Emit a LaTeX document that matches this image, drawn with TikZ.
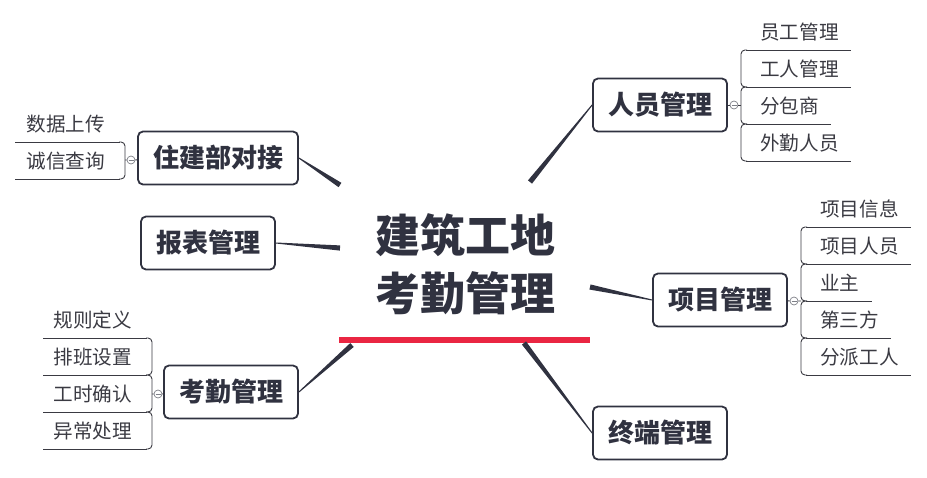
\documentclass[tikz,border=0pt]{standalone}
\usepackage{fontspec}
\setmainfont{Noto Sans CJK SC}
\usetikzlibrary{positioning,calc}
\definecolor{topiccolor}{RGB}{48,50,64}
\definecolor{leafcolor}{RGB}{58,58,66}
\definecolor{barcolor}{RGB}{234,38,66}
\definecolor{foldcolor}{RGB}{125,127,135}

% tapered branch from the centre to a topic
\newcommand{\taper}[2]{\fill[topiccolor] ($(#1)!2.6pt!90:(#2)$) -- ($(#2)!0.5pt!-90:(#1)$) -- ($(#2)!0.5pt!90:(#1)$) -- ($(#1)!2.6pt!-90:(#2)$) -- cycle;}

\begin{document}
\begin{tikzpicture}[x=1pt,y=-1pt,
    topic/.style={draw=topiccolor, line width=1.8pt, rounded corners=5pt, fill=white, text=topiccolor, font=\fontsize{26}{30}\selectfont\bfseries, minimum height=53pt, inner xsep=15pt},
    leaf/.style={text=leafcolor, font=\fontsize{19.6}{22}\selectfont, inner sep=0pt},
    leafline/.style={draw=leafcolor, line width=0.9pt},
    fold/.style={circle, draw=foldcolor, fill=white, line width=0.7pt, minimum size=8pt, inner sep=0pt,
        path picture={\draw[foldcolor, line width=0.7pt] ([xshift=-2.5pt]path picture bounding box.center) -- ([xshift=2.5pt]path picture bounding box.center);}}
]
\useasboundingbox (0,0) rectangle (927,477);

% centre
\node[font=\fontsize{45}{58}\selectfont\bfseries, text=topiccolor, align=center] (root) at (465,264) {建筑工地\\考勤管理};
\draw[barcolor, line width=6pt] (339,340) -- (590,340);

% main topics
\node[topic] (ry) at (660,105) {人员管理};
\node[topic] (zj) at (218,158) {住建部对接};
\node[topic] (bb) at (208,243) {报表管理};
\node[topic] (xm) at (720,300) {项目管理};
\node[topic] (kq) at (231,392) {考勤管理};
\node[topic] (zd) at (660,433) {终端管理};

\coordinate (c-ry) at (530,182);
\coordinate (c-zj) at (340,185);
\coordinate (c-bb) at (340,248);
\coordinate (c-xm) at (590,287);
\coordinate (c-kq) at (352,345);
\coordinate (c-zd) at (524,343);
\taper{c-ry}{ry.west}
\taper{c-zj}{zj.east}
\taper{c-bb}{bb.east}
\taper{c-xm}{xm.west}
\taper{c-kq}{kq.east}
\taper{c-zd}{zd.west}

% 人员管理
\coordinate (ry-s) at (741,105);
\node[fold] (ry-f) at (734,105) {};
\draw[leafline] (ry) -- (ry-f) -- (ry-s);
\foreach \lbl [count=\i] in {员工管理,工人管理,分包商,外勤人员} {
  \pgfmathsetmacro\y{13+37*\i}
  \node[leaf, anchor=west] (ry-\i) at (760,\y-18) {\lbl};
  \draw[leafline] (746,\y) -- ($(ry-\i.east)+(12,18)$);
}
\foreach \i in {1,...,3} {
  \pgfmathsetmacro\y{13+37*\i}
  \draw[leafline, rounded corners=4pt] (747,\y) -- (741,\y) -- (741,\y+37) -- (747,\y+37);
}

% 项目管理
\coordinate (xm-s) at (801,301);
\node[fold] (xm-f) at (794,301) {};
\draw[leafline] (xm) -- (xm-f) -- (xm-s);
\foreach \lbl [count=\i] in {项目信息,项目人员,业主,第三方,分派工人} {
  \pgfmathsetmacro\y{190+37*\i}
  \node[leaf, anchor=west] (xm-\i) at (820,\y-18) {\lbl};
  \draw[leafline] (806,\y) -- ($(xm-\i.east)+(12,18)$);
}
\foreach \i in {1,...,4} {
  \pgfmathsetmacro\y{190+37*\i}
  \draw[leafline, rounded corners=4pt] (807,\y) -- (801,\y) -- (801,\y+37) -- (807,\y+37);
}

% 住建部对接
\coordinate (zj-s) at (125,160);
\node[fold] (zj-f) at (131,160) {};
\draw[leafline] (zj) -- (zj-f) -- (zj-s);
\foreach \lbl [count=\i] in {数据上传,诚信查询} {
  \pgfmathsetmacro\y{105+37*\i}
  \node[leaf, anchor=east] (zj-\i) at (105,\y-18) {\lbl};
  \draw[leafline] (120,\y) -- ($(zj-\i.west)+(-11,18)$);
}
\draw[leafline, rounded corners=4pt] (119,142) -- (125,142) -- (125,179) -- (119,179);

% 考勤管理
\coordinate (kq-s) at (152,394);
\node[fold] (kq-f) at (158,394) {};
\draw[leafline] (kq) -- (kq-f) -- (kq-s);
\foreach \lbl [count=\i] in {规则定义,排班设置,工时确认,异常处理} {
  \pgfmathsetmacro\y{301+37*\i}
  \node[leaf, anchor=east] (kq-\i) at (132,\y-18) {\lbl};
  \draw[leafline] (147,\y) -- ($(kq-\i.west)+(-10,18)$);
}
\foreach \i in {1,...,3} {
  \pgfmathsetmacro\y{301+37*\i}
  \draw[leafline, rounded corners=4pt] (146,\y) -- (152,\y) -- (152,\y+37) -- (146,\y+37);
}
\end{tikzpicture}
\end{document}
